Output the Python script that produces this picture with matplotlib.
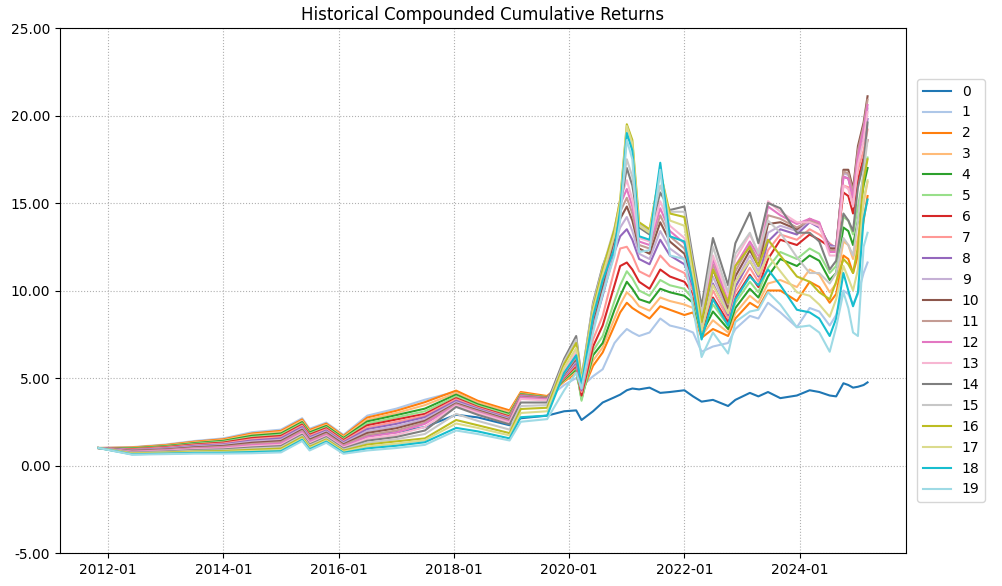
import numpy as np
import pandas as pd
import matplotlib
matplotlib.use("Agg")
import matplotlib.pyplot as plt
import matplotlib.dates as mdates
from matplotlib.ticker import FormatStrFormatter

dates = ["2011-11-01", "2012-06-01", "2013-01-01", "2013-07-01", "2014-01-01", "2014-07-01",
         "2015-01-01", "2015-05-15", "2015-07-01", "2015-10-15", "2016-02-01", "2016-07-01",
         "2017-01-01", "2017-07-01", "2018-01-15", "2018-06-01", "2018-12-20", "2019-03-01",
         "2019-08-15", "2019-12-01", "2020-02-15", "2020-03-20", "2020-06-01", "2020-08-01",
         "2020-10-15", "2020-11-20", "2021-01-01", "2021-02-05", "2021-03-20", "2021-05-25",
         "2021-08-01", "2021-10-01", "2022-01-01", "2022-02-25", "2022-04-20", "2022-07-01",
         "2022-10-05", "2022-11-20", "2023-02-20", "2023-04-15", "2023-06-15", "2023-09-01",
         "2023-12-15", "2024-03-05", "2024-05-05", "2024-07-10", "2024-08-20", "2024-10-05",
         "2024-11-05", "2024-12-05", "2025-01-05", "2025-02-10", "2025-03-07"]

s0 = [1.0, 0.90, 0.95, 1.10, 1.15, 1.30, 1.40, 2.00, 1.50, 1.80, 1.20, 1.70, 1.90, 2.20, 2.90, 2.75, 2.30, 2.70, 2.85, 3.10, 3.15, 2.60, 3.10, 3.60, 3.90, 4.05, 4.30, 4.40, 4.35, 4.45, 4.15, 4.20, 4.30, 3.95, 3.65, 3.75, 3.40, 3.75, 4.15, 3.95, 4.20, 3.85, 4.00, 4.30, 4.20, 4.00, 3.95, 4.70, 4.60, 4.45, 4.50, 4.60, 4.75]
s1 = [1.0, 1.05, 1.20, 1.40, 1.55, 1.90, 2.05, 2.70, 2.10, 2.45, 1.75, 2.85, 3.25, 3.76, 4.22, 3.65, 3.10, 4.10, 3.85, 4.60, 5.00, 4.50, 5.10, 5.50, 7.00, 7.40, 7.80, 7.60, 7.40, 7.60, 8.40, 8.00, 7.80, 7.60, 6.50, 6.80, 7.00, 7.80, 8.55, 8.40, 9.30, 8.75, 7.90, 9.00, 8.80, 8.00, 8.60, 10.00, 9.80, 9.20, 9.80, 11.00, 11.60]
s2 = [1.0, 1.03, 1.17, 1.36, 1.50, 1.83, 1.98, 2.63, 2.03, 2.39, 1.69, 2.74, 3.13, 3.62, 4.28, 3.70, 3.15, 4.20, 3.97, 4.80, 5.30, 4.10, 5.70, 6.46, 8.00, 8.75, 9.30, 9.00, 8.75, 8.40, 9.10, 8.90, 8.60, 8.75, 7.30, 7.80, 7.40, 8.40, 9.30, 9.00, 10.00, 10.00, 9.40, 10.50, 10.20, 9.30, 9.80, 12.00, 11.80, 11.00, 12.00, 14.00, 15.40]
s3 = [1.0, 1.00, 1.14, 1.32, 1.45, 1.77, 1.91, 2.56, 1.96, 2.32, 1.63, 2.63, 3.00, 3.45, 4.15, 3.60, 3.05, 4.12, 3.92, 4.85, 5.40, 4.00, 6.00, 6.75, 8.40, 9.20, 9.90, 9.60, 9.10, 8.85, 9.60, 9.40, 9.20, 9.00, 7.40, 8.30, 7.60, 8.70, 9.70, 9.30, 10.40, 10.60, 10.20, 11.20, 10.90, 9.90, 10.40, 12.80, 12.60, 11.80, 13.00, 15.00, 16.20]
s4 = [1.0, 0.98, 1.11, 1.28, 1.41, 1.70, 1.83, 2.48, 1.89, 2.26, 1.57, 2.52, 2.88, 3.25, 4.05, 3.50, 2.95, 4.08, 3.90, 4.90, 5.50, 3.80, 6.30, 7.00, 8.90, 9.70, 10.50, 10.10, 9.50, 9.30, 10.10, 9.90, 9.70, 9.30, 7.50, 8.80, 7.80, 9.00, 10.10, 9.60, 10.80, 11.80, 11.40, 12.00, 11.70, 10.60, 11.00, 13.60, 13.40, 12.60, 14.00, 16.00, 17.00]
s5 = [1.0, 0.95, 1.08, 1.24, 1.36, 1.63, 1.76, 2.41, 1.82, 2.19, 1.51, 2.41, 2.75, 3.10, 3.95, 3.42, 2.88, 4.05, 3.88, 4.95, 5.60, 3.70, 6.55, 7.40, 9.40, 10.30, 11.10, 10.70, 10.00, 9.70, 10.60, 10.30, 10.10, 9.50, 7.60, 9.20, 8.00, 9.30, 10.50, 9.90, 11.30, 12.20, 11.80, 12.40, 12.10, 11.00, 11.40, 14.20, 14.00, 13.20, 14.80, 16.60, 17.60]
s6 = [1.0, 0.93, 1.05, 1.20, 1.31, 1.57, 1.69, 2.34, 1.76, 2.13, 1.45, 2.30, 2.63, 2.95, 3.85, 3.35, 2.80, 4.02, 3.86, 5.00, 5.70, 4.00, 6.80, 8.00, 10.30, 11.40, 11.60, 11.20, 10.50, 10.10, 11.20, 10.80, 10.50, 9.80, 7.70, 9.60, 8.20, 9.60, 10.90, 10.20, 11.80, 12.90, 12.60, 13.20, 12.90, 12.50, 12.20, 15.60, 15.40, 14.40, 16.30, 17.60, 18.60]
s7 = [1.0, 0.91, 1.02, 1.16, 1.26, 1.50, 1.62, 2.27, 1.69, 2.07, 1.39, 2.19, 2.50, 2.85, 3.78, 3.30, 2.75, 4.00, 3.85, 5.05, 5.80, 4.20, 7.20, 8.55, 11.20, 12.40, 12.50, 12.00, 11.10, 10.80, 12.00, 11.40, 11.00, 10.00, 7.80, 10.00, 8.40, 9.90, 11.30, 10.50, 12.30, 13.20, 12.90, 13.50, 13.20, 12.70, 12.40, 16.00, 15.90, 14.90, 16.90, 18.00, 19.20]
s8 = [1.0, 0.88, 0.98, 1.12, 1.21, 1.43, 1.55, 2.20, 1.62, 2.00, 1.33, 2.08, 2.38, 2.76, 3.70, 3.25, 2.70, 3.98, 3.84, 5.10, 5.90, 4.30, 7.80, 9.70, 12.20, 13.10, 13.50, 12.90, 11.80, 11.50, 12.90, 12.00, 11.50, 10.20, 7.90, 10.40, 8.60, 10.20, 11.70, 10.80, 12.80, 13.50, 13.20, 13.90, 13.60, 12.60, 12.50, 16.50, 16.40, 15.40, 17.60, 18.60, 19.80]
s9 = [1.0, 0.86, 0.95, 1.08, 1.17, 1.37, 1.47, 2.12, 1.55, 1.94, 1.27, 1.97, 2.25, 2.65, 3.62, 3.20, 2.65, 3.95, 3.83, 5.15, 6.00, 4.40, 8.00, 10.00, 12.60, 13.60, 14.20, 13.40, 12.10, 11.80, 13.40, 12.40, 11.80, 10.40, 8.00, 10.80, 8.80, 10.50, 12.00, 11.10, 13.30, 13.70, 13.40, 14.00, 13.70, 12.50, 12.50, 16.70, 16.60, 15.60, 18.00, 19.00, 20.40]
s10 = [1.0, 0.84, 0.92, 1.04, 1.12, 1.30, 1.40, 2.05, 1.48, 1.88, 1.21, 1.86, 2.13, 2.55, 3.55, 3.15, 2.60, 3.92, 3.82, 5.20, 6.10, 4.50, 8.30, 10.30, 13.00, 14.10, 14.80, 14.00, 12.40, 12.10, 13.90, 12.80, 12.10, 10.60, 8.20, 11.20, 9.00, 10.80, 12.30, 11.40, 13.80, 13.90, 13.50, 14.10, 13.80, 12.40, 12.40, 16.90, 16.90, 15.80, 18.25, 19.60, 21.10]
s11 = [1.0, 0.81, 0.89, 1.00, 1.07, 1.23, 1.33, 1.98, 1.41, 1.81, 1.15, 1.75, 2.00, 2.46, 3.50, 3.10, 2.55, 3.90, 3.80, 5.25, 6.20, 4.60, 8.50, 10.60, 13.20, 14.50, 15.30, 14.40, 12.60, 12.40, 14.30, 13.10, 12.40, 10.80, 8.40, 11.50, 9.20, 11.10, 12.60, 11.70, 14.30, 14.10, 13.60, 14.00, 13.80, 12.30, 12.30, 16.80, 16.70, 15.60, 18.00, 19.40, 20.90]
s12 = [1.0, 0.79, 0.86, 0.96, 1.02, 1.17, 1.26, 1.91, 1.34, 1.75, 1.09, 1.64, 1.88, 2.38, 3.45, 3.05, 2.50, 3.88, 3.78, 5.30, 6.30, 4.70, 8.70, 10.90, 13.40, 14.90, 15.80, 14.80, 12.80, 12.60, 14.70, 13.40, 12.70, 11.00, 8.60, 11.80, 9.40, 11.40, 12.80, 12.00, 14.80, 14.30, 13.80, 14.10, 13.90, 12.20, 12.20, 16.50, 16.40, 15.30, 17.70, 19.20, 20.60]
s13 = [1.0, 0.76, 0.83, 0.92, 0.97, 1.10, 1.18, 1.83, 1.27, 1.68, 1.03, 1.53, 1.75, 2.20, 3.42, 3.00, 2.45, 3.80, 3.72, 5.40, 6.50, 4.80, 8.90, 11.10, 13.50, 15.20, 16.30, 15.20, 13.00, 12.80, 15.10, 13.70, 13.00, 11.30, 8.80, 12.00, 9.70, 11.80, 13.20, 12.20, 15.10, 14.50, 13.90, 13.90, 13.70, 12.00, 12.00, 16.00, 15.80, 14.80, 17.20, 18.60, 20.20]
s14 = [1.0, 0.74, 0.80, 0.88, 0.92, 1.03, 1.11, 1.76, 1.20, 1.62, 0.97, 1.42, 1.63, 2.00, 3.35, 2.90, 2.35, 3.60, 3.60, 6.10, 7.40, 5.00, 9.30, 11.40, 13.20, 14.80, 17.00, 16.00, 13.60, 13.20, 15.60, 14.60, 14.80, 11.80, 9.10, 13.00, 10.30, 12.70, 14.45, 12.70, 15.00, 14.70, 13.30, 13.30, 12.80, 11.20, 11.70, 14.40, 14.00, 13.40, 15.90, 17.30, 19.60]
s15 = [1.0, 0.72, 0.77, 0.84, 0.87, 0.97, 1.04, 1.69, 1.14, 1.56, 0.91, 1.31, 1.50, 1.80, 2.95, 2.55, 2.05, 3.40, 3.45, 5.95, 7.20, 5.00, 9.20, 11.30, 13.60, 15.00, 17.50, 16.50, 13.80, 13.40, 16.00, 14.50, 14.50, 11.50, 8.60, 12.50, 9.90, 12.10, 13.30, 12.10, 14.00, 13.30, 11.90, 11.00, 11.00, 10.40, 11.00, 13.00, 12.60, 12.00, 14.00, 16.80, 18.60]
s16 = [1.0, 0.69, 0.74, 0.80, 0.83, 0.90, 0.97, 1.62, 1.07, 1.49, 0.85, 1.20, 1.38, 1.55, 2.60, 2.30, 1.85, 3.23, 3.30, 5.80, 7.00, 4.90, 9.00, 11.20, 13.50, 15.20, 19.50, 18.60, 13.90, 13.50, 16.80, 14.40, 14.20, 11.20, 8.20, 11.20, 9.30, 11.40, 12.50, 11.40, 12.90, 12.00, 10.80, 10.50, 9.90, 9.50, 10.50, 11.80, 11.50, 11.00, 12.50, 16.30, 17.50]
s17 = [1.0, 0.67, 0.71, 0.76, 0.78, 0.83, 0.89, 1.54, 1.00, 1.43, 0.79, 1.09, 1.25, 1.45, 2.40, 2.15, 1.72, 3.00, 3.10, 5.60, 6.70, 4.80, 8.80, 10.90, 13.20, 15.00, 19.40, 18.40, 13.70, 13.30, 16.90, 14.00, 13.70, 10.80, 7.70, 10.30, 8.70, 10.50, 11.70, 10.90, 12.00, 11.10, 9.90, 9.70, 9.20, 8.50, 9.50, 11.40, 10.70, 10.00, 11.20, 15.20, 16.30]
s18 = [1.0, 0.64, 0.68, 0.72, 0.73, 0.77, 0.82, 1.47, 0.93, 1.36, 0.73, 0.98, 1.13, 1.33, 2.15, 1.95, 1.55, 2.76, 2.85, 5.30, 6.30, 4.60, 8.50, 10.60, 12.40, 14.60, 19.00, 18.00, 13.10, 12.90, 17.30, 13.10, 12.80, 10.30, 7.20, 9.50, 8.00, 9.50, 10.80, 10.30, 11.20, 10.30, 8.90, 8.75, 8.40, 7.40, 8.40, 11.00, 10.00, 9.10, 9.90, 14.10, 15.20]
s19 = [1.0, 0.62, 0.65, 0.68, 0.68, 0.70, 0.75, 1.40, 0.86, 1.30, 0.67, 0.86, 1.00, 1.18, 2.00, 1.80, 1.43, 2.50, 2.65, 4.30, 5.30, 4.40, 7.60, 9.80, 12.00, 14.00, 18.60, 17.50, 12.20, 12.30, 16.90, 12.00, 11.80, 9.00, 6.20, 7.60, 6.40, 8.20, 8.80, 8.90, 9.90, 9.20, 7.90, 8.00, 7.60, 6.50, 7.90, 9.90, 9.00, 7.60, 7.40, 12.50, 13.30]

series = [s0, s1, s2, s3, s4, s5, s6, s7, s8, s9, s10, s11, s12, s13, s14, s15, s16, s17, s18, s19]

df = pd.DataFrame({str(i): s for i, s in enumerate(series)}, index=pd.to_datetime(dates))

fig = plt.figure(figsize=(10.02, 5.86), dpi=100)
ax = fig.add_axes([0.0599, 0.0563, 0.8443, 0.8959])

cmap = plt.get_cmap("tab20")
for i, col in enumerate(df.columns):
    ax.plot(df.index, df[col], color=cmap(i), lw=1.5, label=col)

ax.set_ylim(-5, 25)
ax.set_yticks(np.arange(-5, 26, 5))
ax.yaxis.set_major_formatter(FormatStrFormatter("%.2f"))
ax.xaxis.set_major_locator(mdates.YearLocator(2, month=1, day=1))
ax.xaxis.set_major_formatter(mdates.DateFormatter("%Y-%m"))
ax.grid(True, linestyle=":")
ax.set_title("Historical Compounded Cumulative Returns")
ax.legend(loc="center left", bbox_to_anchor=(1.005, 0.5))

fig.savefig("out.png", dpi=100)
